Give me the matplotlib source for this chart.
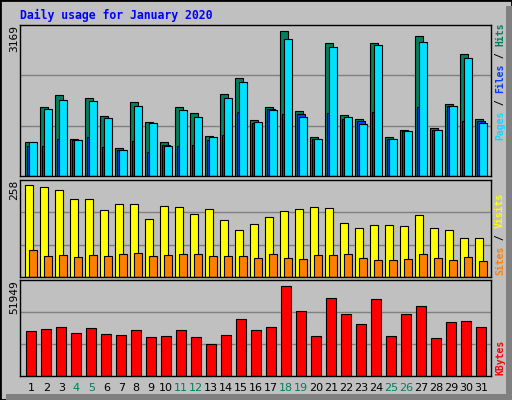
import matplotlib.pyplot as plt
from matplotlib.patches import Rectangle
import numpy as np

days = np.arange(1, 32)
weekend = [4, 5, 11, 12, 18, 19, 25, 26]

hits = [733, 1509, 1768, 798, 1703, 1315, 604, 1617, 1186, 733, 1509, 1380, 884, 1789, 2134, 1229,
        1509, 3169, 1423, 862, 2911, 1337, 1250, 2911, 862, 1013, 3062, 1056, 1574, 2673, 1250]
files = [733, 1466, 1660, 776, 1639, 1272, 561, 1531, 1164, 647, 1444, 1294, 841, 1703, 2048, 1186,
         1444, 2997, 1294, 798, 2824, 1294, 1143, 2867, 798, 992, 2932, 1013, 1531, 2587, 1164]
pages = [647, 647, 798, 776, 841, 625, 561, 755, 517, 668, 647, 668, 776, 906, 1401, 1164,
         1466, 1358, 1358, 798, 1380, 1250, 1207, 1401, 798, 992, 1509, 1013, 1531, 1207, 1207]
visits = [258, 252, 244, 219, 219, 188, 205, 205, 163, 199, 196, 177, 191, 160, 132, 149,
          168, 185, 191, 196, 194, 151, 137, 146, 146, 143, 174, 137, 132, 109, 109]
sites = [76, 59, 62, 56, 62, 59, 65, 67, 59, 62, 65, 65, 59, 59, 59, 53,
         65, 53, 50, 62, 62, 65, 53, 48, 48, 50, 65, 53, 48, 56, 45]
kbytes = [26261, 27403, 28545, 24549, 27974, 23978, 23407, 26832, 22265, 22836, 26832, 22265, 18269,
          23407, 33112, 26832, 28545, 51949, 37679, 22836, 45101, 35967, 30258, 44530, 22836, 35967,
          40534, 21694, 31400, 31970, 28545]

BG = '#c0c0c0'
W, H = 512, 400
fig = plt.figure(figsize=(W / 100, H / 100), dpi=100, facecolor=BG)


def px_axes(x0, y0, x1, y1):
    # pixel box (top-left origin) -> axes
    return fig.add_axes([x0 / W, 1 - y1 / H, (x1 - x0) / W, (y1 - y0) / H])


# outer border
fig.patches.append(Rectangle((0, 0), 1, 1, transform=fig.transFigure, fill=False,
                             ec='black', lw=2))
fig.patches.append(Rectangle((506 / W, 0), 6 / W, 1 - 6 / H, transform=fig.transFigure,
                             fc='#808080', ec='none'))
fig.patches.append(Rectangle((6 / W, 0), 1, 6 / H, transform=fig.transFigure,
                             fc='#808080', ec='none'))

panels = [(25, 176, 3169 * 153 / 147), (180, 277, 258 * 97 / 92), (280, 376, 51949 * 96 / 90)]
axs = []
for top, bot, ymax in panels:
    ax = px_axes(20, top, 491, bot)
    ax.set_facecolor(BG)
    ax.set_xlim(0, 31.4)
    ax.set_ylim(0, ymax)
    ax.set_xticks([])
    ax.set_yticks([])
    for s in ax.spines.values():
        s.set_color('black')
        s.set_linewidth(1)
    for f in (1 / 3, 2 / 3):
        ax.axhline(ymax * f, color='#808080', lw=1, zorder=0)
    axs.append(ax)

x0 = days - 1
bw = 8 / 15
kw = dict(edgecolor='black', linewidth=0.8, align='edge')
axs[0].bar(x0 + 0.333, hits, bw, color='#00805c', **kw)
axs[0].bar(x0 + 0.466, pages, bw, color='#0040ff', **kw)
axs[0].bar(x0 + 0.6, files, bw, color='#00e0ff', **kw)
axs[1].bar(x0 + 0.333, visits, bw, color='#ffff00', **kw)
axs[1].bar(x0 + 0.6, sites, bw, color='#ff8000', **kw)
axs[2].bar(x0 + 0.4, kbytes, 10 / 15, color='#ff0000', **kw)

for d in days:
    axs[2].text(d - 1 + 0.75, -0.13, str(d), transform=axs[2].get_xaxis_transform(),
                ha='center', va='center', fontsize=8,
                color='#00805c' if d in weekend else 'black')

mono = 'DejaVu Sans Mono'
fig.text(20 / W, 1 - 15 / H, 'Daily usage for January 2020', color='#0000ff',
         family=mono, weight='bold', fontsize=8.3, va='center', ha='left')

for (top, bot, _), lab in zip(panels, ['3169', '258', '51949']):
    fig.text(14 / W, 1 - top / H, lab, rotation=90, ha='center', va='top',
             fontsize=8, family=mono)


def vlabel(parts, ybottom):
    # multi-colour vertical label, read bottom to top
    fig.canvas.draw()
    r = fig.canvas.get_renderer()
    y = ybottom
    for txt, col in parts:
        t = fig.text(500 / W, 1 - y / H, txt, rotation=90, ha='center', va='bottom',
                     color=col, family=mono, weight='bold', fontsize=7)
        ext = t.get_window_extent(r)
        y -= ext.height


vlabel([('Pages', '#00e0ff'), (' / ', 'black'), ('Files', '#0040ff'),
        (' / ', 'black'), ('Hits', '#00805c')], 140)
vlabel([('Sites', '#ff8000'), (' / ', 'black'), ('Visits', '#ffff00')], 275)
vlabel([('KBytes', '#ff0000')], 375)

fig.savefig('out.png', dpi=100, facecolor=BG)
